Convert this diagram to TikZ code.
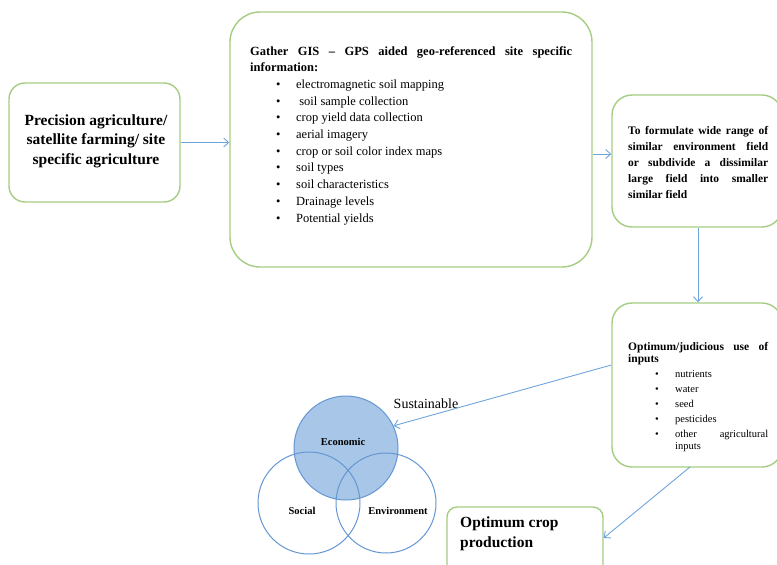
\documentclass[tikz,border=0pt]{standalone}
\usepackage{fontspec}
\setmainfont{Liberation Serif}
\usetikzlibrary{arrows.meta}
\definecolor{boxgreen}{RGB}{165,205,130}
\definecolor{arrowblue}{RGB}{110,165,220}
\definecolor{econfill}{RGB}{168,198,232}
\definecolor{circblue}{RGB}{100,150,210}
\begin{document}
\begin{tikzpicture}[x=1pt,y=-1pt,
  gbox/.style={draw=boxgreen,line width=1.4pt,inner sep=0pt},
  conn/.style={draw=arrowblue,line width=0.9pt,-{Straight Barb[length=5pt,width=9pt]}},
  circ/.style={draw=circblue,line width=1pt,circle,inner sep=0pt},
  txt/.style={inner sep=0pt,font=\bfseries}]
\useasboundingbox (0,0) rectangle (777,565);
\clip (0,0) rectangle (777,565);
% boxes
\node[gbox,rounded corners=16pt,minimum width=171pt,minimum height=119pt] (b1) at (94.5,142.5) {};
\node[gbox,rounded corners=30pt,minimum width=362pt,minimum height=255pt] (b2) at (411,139.5) {};
\node[gbox,rounded corners=20pt,minimum width=170pt,minimum height=132pt] (b3) at (697,161) {};
\node[gbox,rounded corners=20pt,minimum width=170pt,minimum height=164pt] (b4) at (697,385) {};
\node[gbox,rounded corners=10pt,minimum width=156pt,minimum height=80pt] (b5) at (525,547) {};
% box1 text
\node[txt,align=center,font=\bfseries\fontsize{15.5}{19.5}\selectfont] (t1) at (96,141) {Precision agriculture/\\satellite farming/ site\\specific agriculture};
% box2 text
\node[inner sep=0pt,anchor=north west,text width=322pt,align=justify,font=\fontsize{12.5}{16.7}\selectfont] (t2) at (250,46)
{\textbf{Gather GIS -- GPS aided geo-referenced site specific}\linebreak
\textbf{information:}\\
\hspace*{26pt}\makebox[20pt][l]{•}electromagnetic soil mapping\\
\hspace*{26pt}\makebox[20pt][l]{•} soil sample collection\\
\hspace*{26pt}\makebox[20pt][l]{•}crop yield data collection\\
\hspace*{26pt}\makebox[20pt][l]{•}aerial imagery\\
\hspace*{26pt}\makebox[20pt][l]{•}crop or soil color index maps\\
\hspace*{26pt}\makebox[20pt][l]{•}soil types\\
\hspace*{26pt}\makebox[20pt][l]{•}soil characteristics\\
\hspace*{26pt}\makebox[20pt][l]{•}Drainage levels\\
\hspace*{26pt}\makebox[20pt][l]{•}Potential yields};
% box3 text
\node[inner sep=0pt,anchor=north west,text width=140pt,align=justify,font=\bfseries\fontsize{11.5}{16}\selectfont] (t3) at (628,126)
{To formulate wide range of\linebreak similar environment field\linebreak or subdivide a dissimilar\linebreak large field into smaller\linebreak similar field};
% box4 text
\node[inner sep=0pt,anchor=north west,text width=140pt,align=justify,font=\fontsize{10.5}{15}\selectfont] (t4) at (628,342)
{\fontsize{11.5}{12.5}\selectfont\textbf{Optimum/judicious use of}\linebreak\textbf{inputs}\par
\fontsize{10.5}{15}\selectfont
\hspace*{27pt}\makebox[20pt][l]{•}nutrients\\
\hspace*{27pt}\makebox[20pt][l]{•}water\\
\hspace*{27pt}\makebox[20pt][l]{•}seed\\
\hspace*{27pt}\makebox[20pt][l]{•}pesticides\\
\leavevmode\hspace*{27pt}\makebox[20pt][l]{•}\parbox[t]{93pt}{\fontsize{10.5}{12}\selectfont other\hfill agricultural\\inputs}};
% box5 text
\node[inner sep=0pt,anchor=north west,align=left,font=\bfseries\fontsize{15.5}{20}\selectfont] (t5) at (460,517) {Optimum crop\\production};
% circles
\node[circ,fill=econfill,minimum size=104pt] (eco) at (346,448) {};
\node[circ,minimum size=102pt] (soc) at (309,503) {};
\node[circ,minimum size=100pt] (env) at (386,503) {};
\node[txt,font=\bfseries\fontsize{10.5}{12}\selectfont] (te) at (343,442) {Economic};
\node[txt,font=\bfseries\fontsize{10.5}{12}\selectfont] (ts) at (302,511) {Social};
\node[txt,font=\bfseries\fontsize{10.5}{12}\selectfont] (tv) at (398,511) {Environment};
\node[inner sep=0pt,font=\fontsize{14}{16}\selectfont] (sus) at (426,404) {Sustainable};
% connectors
\coordinate (a2in) at (b2.west |- b1.east);
\draw[conn] (b1.east) -- (a2in);
\coordinate (a3out) at (b2.east |- 0,154);
\coordinate (a3in) at (b3.west |- 0,154);
\draw[conn] (a3out) -- (a3in);
\coordinate (a4out) at (b3.south -| 698,0);
\coordinate (a4in) at (b4.north -| 698,0);
\draw[conn] (a4out) -- (a4in);
\coordinate (a5out) at (b4.west |- 0,365);
\draw[conn] (a5out) -- (eco.25);
\coordinate (a6out) at (690,467);
\coordinate (a6in) at (b5.east |- 0,538);
\draw[conn] (a6out) -- (a6in);
\end{tikzpicture}
\end{document}
